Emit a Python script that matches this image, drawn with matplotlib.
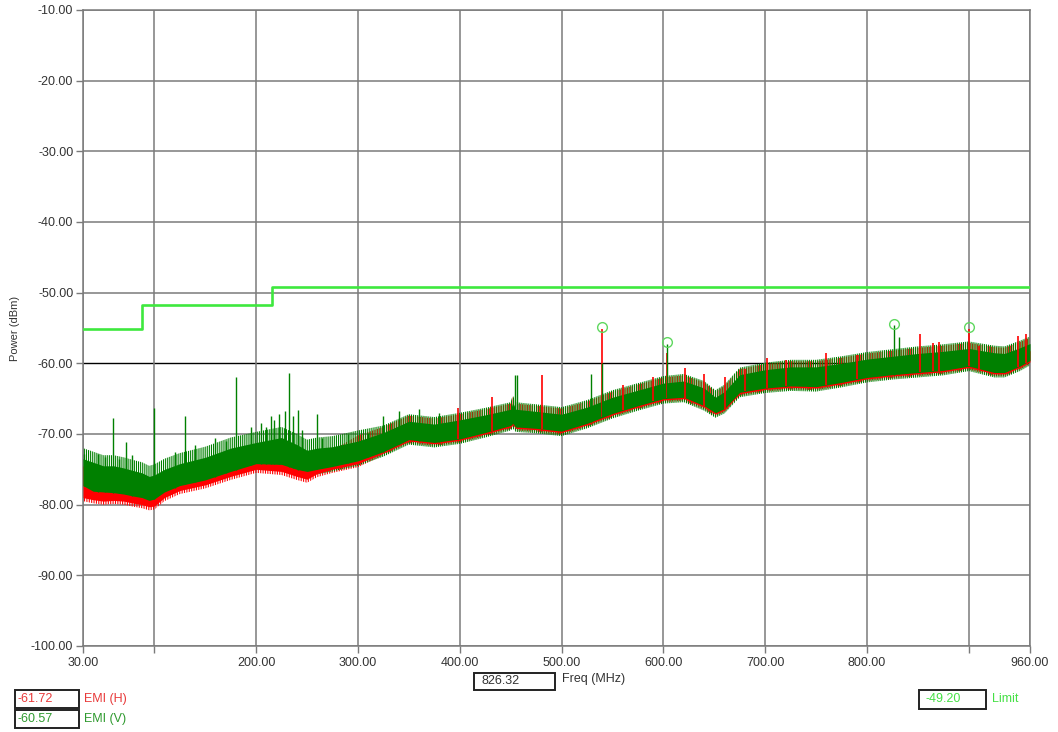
import numpy as np
import matplotlib
matplotlib.use("Agg")
import matplotlib.pyplot as plt
from matplotlib.patches import Rectangle

plt.rcParams['font.family'] = ['Liberation Sans', 'DejaVu Sans']
plt.rcParams['hatch.linewidth'] = 0.8

# ---------------- data ----------------
freq = [30, 40, 50, 60, 70, 80, 88, 95, 100, 110, 125, 150, 175, 200, 225, 240,
        250, 260, 275, 300, 325, 350, 375, 400, 425, 450, 452, 455, 475, 500,
        525, 550, 575, 600, 620, 640, 651, 660, 675, 700, 725, 750, 775, 800,
        825, 850, 875, 900, 925, 935, 950, 960]

# EMI (V) dense core (green)
v_hi = [-73.5, -74.0, -74.5, -74.5, -74.8, -75.2, -75.5, -76.0, -75.8, -75.0,
        -74.2, -73.3, -72.0, -71.2, -70.5, -71.5, -72.3, -72.0, -71.8, -71.0,
        -69.8, -68.2, -68.6, -68.0, -67.3, -66.5, -65.5, -66.5, -66.8, -67.2,
        -66.2, -64.8, -63.8, -62.8, -62.5, -63.5, -64.8, -64.0, -61.6, -60.9,
        -60.5, -60.5, -60.0, -59.4, -59.0, -58.6, -58.3, -57.9, -58.5, -58.6,
        -57.8, -57.2]
v_lo = [-77.3, -78.1, -78.2, -78.3, -78.5, -78.8, -79.0, -79.4, -79.2, -78.2,
        -77.3, -76.5, -75.3, -74.2, -74.3, -75.0, -75.3, -75.0, -74.6, -73.8,
        -72.5, -70.8, -71.2, -70.7, -69.8, -68.8, -68.5, -69.0, -69.2, -69.6,
        -68.5, -67.1, -66.0, -65.0, -64.8, -66.0, -67.0, -66.4, -64.1, -63.5,
        -63.2, -63.3, -62.7, -62.0, -61.6, -61.3, -61.0, -60.4, -61.3, -61.3,
        -60.4, -59.6]
# EMI (V) noise peaks envelope
v_peak = [-72.0, -72.5, -73.0, -73.0, -73.3, -73.7, -74.0, -74.5, -74.3, -73.5,
          -72.7, -71.8, -70.5, -69.7, -69.0, -70.0, -70.8, -70.5, -70.3, -69.5,
          -68.8, -67.2, -67.6, -67.0, -66.3, -65.5, -64.5, -65.5, -65.8, -66.2,
          -65.2, -63.8, -62.8, -61.8, -61.5, -62.5, -63.8, -63.0, -60.6, -59.9,
          -59.5, -59.5, -59.0, -58.4, -58.0, -57.6, -57.3, -56.9, -57.5, -57.6,
          -56.8, -56.2]
# EMI (V) noise troughs envelope
v_floor = [-78.0, -78.8, -78.9, -79.0, -79.2, -79.5, -79.7, -80.1, -79.9, -78.9,
           -78.0, -77.2, -76.0, -74.9, -75.0, -75.7, -76.0, -75.7, -75.3, -74.5,
           -73.2, -71.5, -71.9, -71.4, -70.5, -69.5, -69.2, -69.7, -69.9, -70.3,
           -69.2, -67.8, -66.7, -65.7, -65.5, -66.7, -67.7, -67.1, -64.8, -64.2,
           -63.9, -64.0, -63.4, -62.7, -62.3, -62.0, -61.7, -61.1, -62.0, -62.0,
           -61.1, -60.3]

# EMI (H) dense core (red)
h_hi = [-74.5, -75.5, -76.0, -76.0, -76.3, -76.7, -77.0, -77.3, -77.2, -76.3,
        -75.3, -74.3, -73.0, -72.2, -72.5, -73.0, -73.3, -73.0, -72.8, -72.0,
        -70.8, -69.2, -69.6, -69.0, -68.3, -67.5, -66.5, -67.5, -67.8, -68.2,
        -67.2, -65.8, -64.8, -63.8, -63.5, -64.5, -65.8, -65.0, -62.6, -61.9,
        -61.5, -61.5, -61.0, -60.4, -60.0, -59.6, -59.3, -58.9, -59.5, -59.6,
        -58.8, -58.2]
h_lo = [-79.0, -79.3, -79.5, -79.4, -79.5, -79.8, -80.0, -80.3, -80.2, -79.0,
        -78.0, -77.2, -76.0, -75.0, -75.3, -76.0, -76.4, -75.6, -75.0, -74.2,
        -72.7, -71.0, -71.4, -70.9, -70.0, -69.0, -68.7, -69.2, -69.4, -69.8,
        -68.7, -67.3, -66.2, -65.2, -65.0, -66.2, -67.2, -66.6, -64.3, -63.7,
        -63.4, -63.5, -62.9, -62.2, -61.8, -61.5, -61.2, -60.6, -61.5, -61.5,
        -60.6, -59.8]
# EMI (H) noise peaks envelope
h_peak = [-74.0, -74.5, -75.0, -75.0, -75.3, -75.7, -76.0, -76.5, -76.3, -75.5,
          -74.7, -73.8, -72.5, -71.7, -71.0, -72.0, -72.8, -72.5, -72.3, -70.2,
          -69.0, -67.4, -67.8, -67.2, -66.5, -65.7, -64.7, -65.7, -66.0, -66.4,
          -65.4, -64.0, -63.0, -62.0, -61.7, -62.7, -64.0, -63.2, -60.8, -60.1,
          -59.7, -59.7, -59.2, -58.6, -58.2, -57.8, -57.5, -57.1, -57.7, -57.8,
          -57.0, -56.4]
# EMI (H) noise troughs envelope
h_floor = [-79.5, -79.8, -80.0, -79.9, -80.0, -80.3, -80.5, -80.8, -80.7, -79.5,
           -78.5, -77.7, -76.5, -75.5, -75.8, -76.5, -76.9, -76.1, -75.5, -74.7,
           -73.0, -71.3, -71.7, -71.2, -70.3, -69.3, -69.0, -69.5, -69.7, -70.1,
           -69.0, -67.6, -66.5, -65.5, -65.3, -66.5, -67.5, -66.9, -64.6, -64.0,
           -63.7, -63.8, -63.2, -62.5, -62.1, -61.8, -61.5, -60.9, -61.8, -61.8,
           -60.9, -60.1]

# discrete peaks above the noise floor
v_spike_f = [31, 45, 52, 59, 65, 72, 78, 100, 120, 130, 140, 160, 170, 180, 195,
             205, 210, 215, 218, 222, 228, 232, 236, 241, 245, 260, 265, 290,
             310, 325, 340, 360, 380, 454, 456, 529, 540, 604, 826, 831]
v_spike_top = [-72.8, -72.8, -73.2, -67.7, -73.5, -71.2, -73.0, -66.3, -72.5,
               -67.4, -71.5, -70.5, -71.0, -62.0, -69.0, -68.5, -69.0, -67.5,
               -68.0, -67.1, -66.8, -61.3, -67.5, -66.6, -69.5, -67.1, -70.5,
               -70.0, -69.8, -67.4, -66.8, -66.5, -67.0, -61.7, -61.7, -61.5,
               -59.9, -57.3, -54.6, -56.3]

h_spike_f = [398, 432, 481, 540, 560, 590, 604, 621, 640, 660, 680, 702, 720,
             760, 790, 852, 865, 871, 900, 910, 948, 956]
h_spike_top = [-66.3, -64.8, -61.7, -55.1, -63.0, -62.0, -58.5, -60.7, -61.5,
               -62.0, -60.8, -59.2, -59.5, -58.5, -58.8, -55.8, -57.1, -57.0,
               -55.1, -57.5, -56.1, -55.8]

# limit line (FCC steps)
limit_f = [30, 88, 88, 216, 216, 960]
limit_db = [-55.2, -55.2, -51.7, -51.7, -49.2, -49.2]

# peak markers
mark_f = [540, 604, 826, 900]
mark_db = [-54.9, -57.0, -54.4, -54.9]

y_ticks = [-10, -20, -30, -40, -50, -60, -70, -80, -90, -100]
x_ticks = [30, 100, 200, 300, 400, 500, 600, 700, 800, 900, 960]
x_labels = ['30.00', '', '200.00', '300.00', '400.00', '500.00', '600.00',
            '700.00', '800.00', '', '960.00']

readout_h = '-61.72'
readout_v = '-60.57'
readout_limit = '-49.20'
readout_freq = '826.32'

# ---------------- figure ----------------
W, H = 1058, 732
fig = plt.figure(figsize=(W / 100, H / 100), dpi=100)
ax = fig.add_axes([83 / W, 1 - 646 / H, (1030 - 83) / W, (646 - 10) / H])

RED = '#ff0000'
GREEN = '#008000'
LIME = '#3ee83e'
GRID = '#7a7a7a'

ax.set_xlim(30, 960)
ax.set_ylim(-100, -10)

for yt in y_ticks:
    ax.axhline(yt, color='black' if yt == -60 else GRID,
               lw=1.0 if yt == -60 else 1.1, zorder=1)
for xt in x_ticks:
    ax.axvline(xt, color=GRID, lw=1.1, zorder=1)

f = np.array(freq, dtype=float)
# noise zones (hatched), then dense cores
ax.fill_between(f, h_floor, h_peak, facecolor='none',
                edgecolor=RED, hatch='|||||||', lw=0, zorder=2)
ax.fill_between(f, v_floor, v_peak, facecolor='none',
                edgecolor=GREEN, hatch='||||||||', lw=0, zorder=2.5)
ax.fill_between(f, h_lo, h_hi, color=RED, lw=0, zorder=2.6)
ax.fill_between(f, v_lo, v_hi, color=GREEN, lw=0, zorder=3)

ax.vlines(h_spike_f, np.interp(h_spike_f, f, v_lo), h_spike_top,
          color=RED, lw=1.2, zorder=3.5)
ax.vlines(v_spike_f, np.interp(v_spike_f, f, v_lo), v_spike_top,
          color=GREEN, lw=1.0, zorder=4)

ax.plot(limit_f, limit_db, color=LIME, lw=1.9, zorder=5)
ax.plot(mark_f, mark_db, ls='none', marker='o', ms=7, mfc='none',
        mec='#5fd85f', mew=1.0, zorder=6)

ax.set_yticks(y_ticks)
ax.set_yticklabels([f'{v:.2f}' for v in y_ticks])
ax.set_xticks(x_ticks)
ax.set_xticklabels(x_labels)
ax.tick_params(axis='both', direction='out', length=5, width=1, color=GRID,
               labelsize=9, labelcolor='#333333')
ax.tick_params(axis='x', pad=3)
ax.tick_params(axis='y', pad=2)
for s in ax.spines.values():
    s.set_color(GRID)
    s.set_linewidth(1.1)

ax.set_ylabel('Power (dBm)', fontsize=8, color='#333333', labelpad=8)

# ---------------- readout boxes ----------------
def box(x0, y0, x1, y1):
    fig.add_artist(Rectangle((x0 / W, 1 - y1 / H), (x1 - x0) / W, (y1 - y0) / H,
                             transform=fig.transFigure, fill=False,
                             ec='#222222', lw=1.4))

def ftext(x, y, s, color, size=9):
    fig.text(x / W, 1 - y / H, s, color=color, fontsize=size, ha='left',
             va='center')

box(474, 673, 555, 690)
ftext(481, 681.5, readout_freq, '#333333')
ftext(562, 679, 'Freq (MHz)', '#333333')

box(15, 690, 79, 708)
ftext(18, 699, readout_h, '#e83a3a')
ftext(84, 699, 'EMI (H)', '#e83a3a')

box(15, 710, 79, 728)
ftext(18, 719, readout_v, '#2f9a2f')
ftext(84, 719, 'EMI (V)', '#2f9a2f')

box(919, 690, 986, 709)
ftext(925, 699.5, readout_limit, '#45e045')
ftext(992, 699.5, 'Limit', '#45e045')

fig.savefig('out.png', dpi=100, facecolor='white')
